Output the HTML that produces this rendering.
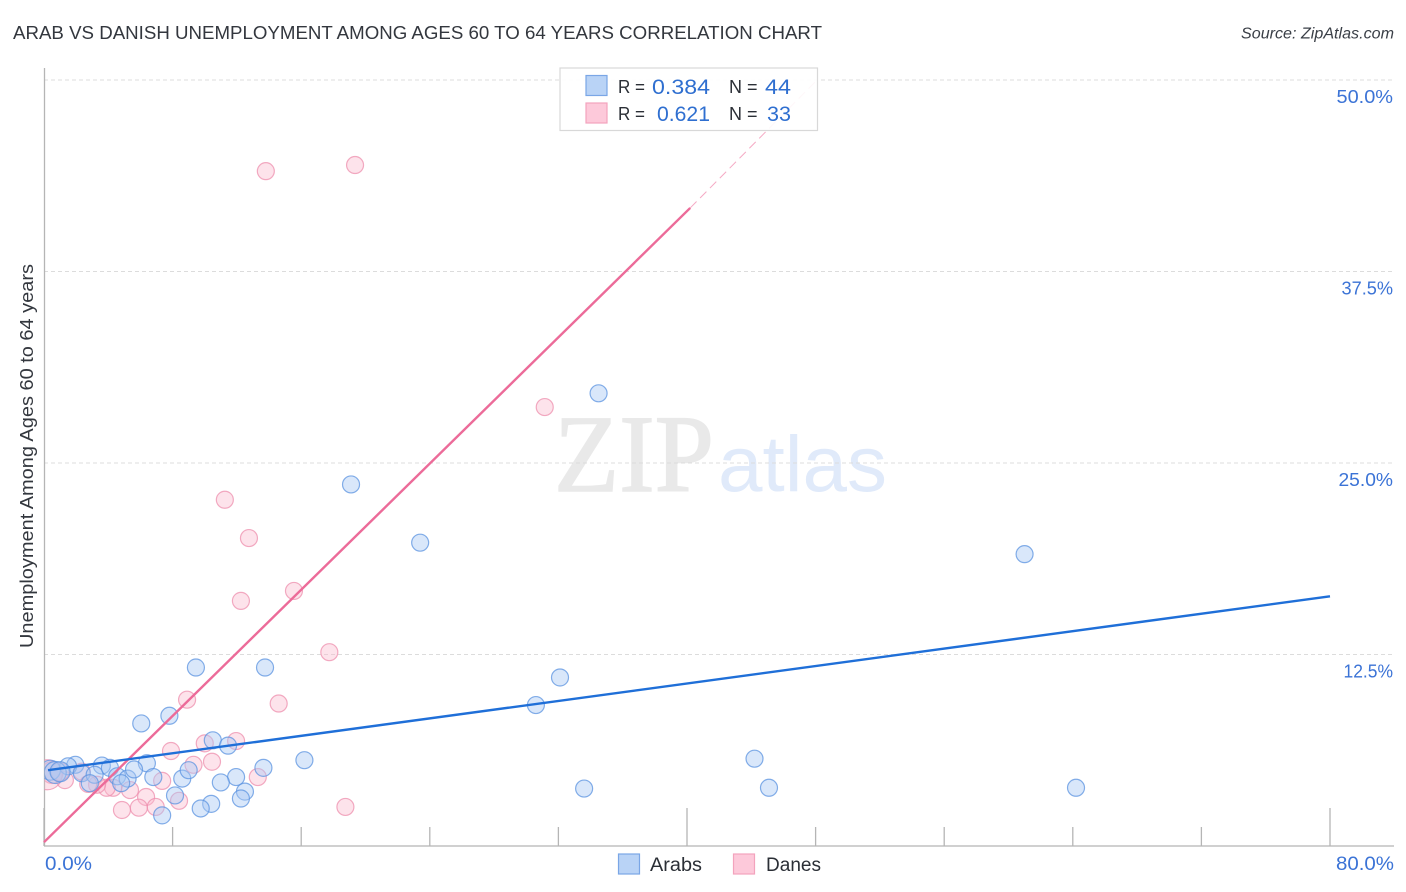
<!DOCTYPE html>
<html lang="en">
<head>
<meta charset="utf-8">
<title>Arab vs Danish Unemployment Correlation Chart</title>
<style>
html,body{margin:0;padding:0;background:#fff;}
svg{display:block;font-family:"Liberation Sans",sans-serif;}
</style>
</head>
<body>
<svg id="chart" width="1406" height="892" viewBox="0 0 1406 892" xmlns="http://www.w3.org/2000/svg">
  <defs><clipPath id="plot-clip"><rect x="44.5" y="60" width="1350" height="786"/></clipPath></defs>
  <text x="13" y="39" font-size="18.5" fill="#33373e" textLength="809" lengthAdjust="spacingAndGlyphs">ARAB VS DANISH UNEMPLOYMENT AMONG AGES 60 TO 64 YEARS CORRELATION CHART</text>
  <text x="1394" y="38.500" font-size="15.5" font-style="italic" fill="#3a3f47" text-anchor="end" textLength="153" lengthAdjust="spacingAndGlyphs">Source: ZipAtlas.com</text>
  <g>
    <text x="554" y="491" font-family="'Liberation Serif',serif" font-size="110" fill="#e9e9e9" stroke="#e9e9e9" stroke-width="1.5" textLength="160" lengthAdjust="spacingAndGlyphs">ZIP</text>
    <text x="718" y="491" font-size="79" fill="#e0eafa" textLength="169" lengthAdjust="spacingAndGlyphs">atlas</text>
  </g>
  <g id="grid"></g>
  <g id="axes"></g>
  <g id="marks" clip-path="url(#plot-clip)"></g>
  <g id="lines"></g>
  <g id="ylabels"></g>
  <text transform="translate(33,456) rotate(-90)" font-size="18" fill="#33373e" text-anchor="middle" textLength="384" lengthAdjust="spacingAndGlyphs">Unemployment Among Ages 60 to 64 years</text>
  <text x="45" y="870" font-size="19" fill="#3b73d6" textLength="47" lengthAdjust="spacingAndGlyphs">0.0%</text>
  <text x="1394" y="870" font-size="19" fill="#3b73d6" text-anchor="end" textLength="58" lengthAdjust="spacingAndGlyphs">80.0%</text>

  <g>
    <rect x="560" y="68" width="257.5" height="62.5" fill="#fff" fill-opacity="0.9" stroke="#d8d8d8" stroke-width="1.2"/>
    <rect x="586" y="75.500" width="21" height="20" fill="#b9d3f6" stroke="#7aa6e6" stroke-width="1.2"/>
    <rect x="586" y="103" width="21" height="20" fill="#fdc9da" stroke="#f3a3bd" stroke-width="1.2"/>
    <text x="618" y="93" font-size="18" fill="#2b2f36" textLength="27" lengthAdjust="spacingAndGlyphs">R =</text>
    <text x="652" y="94" font-size="21" fill="#2f6fd0" textLength="58" lengthAdjust="spacingAndGlyphs">0.384</text>
    <text x="729" y="93" font-size="18" fill="#2b2f36">N =</text>
    <text x="765" y="94" font-size="21" fill="#2f6fd0" textLength="26" lengthAdjust="spacingAndGlyphs">44</text>
    <text x="618" y="120" font-size="18" fill="#2b2f36" textLength="27" lengthAdjust="spacingAndGlyphs">R =</text>
    <text x="657" y="121" font-size="21" fill="#2f6fd0" textLength="53" lengthAdjust="spacingAndGlyphs">0.621</text>
    <text x="729" y="120" font-size="18" fill="#2b2f36">N =</text>
    <text x="767" y="121" font-size="21" fill="#2f6fd0" textLength="24" lengthAdjust="spacingAndGlyphs">33</text>
  </g>

  <g>
    <rect x="618.500" y="854" width="21" height="20" fill="#b9d3f6" stroke="#7aa6e6" stroke-width="1.2"/>
    <text x="650" y="871" font-size="19" fill="#2b2f36" textLength="52" lengthAdjust="spacingAndGlyphs">Arabs</text>
    <rect x="733.500" y="854" width="21" height="20" fill="#fdc9da" stroke="#f3a3bd" stroke-width="1.2"/>
    <text x="766" y="871" font-size="19" fill="#2b2f36" textLength="55" lengthAdjust="spacingAndGlyphs">Danes</text>
  </g>
</svg>
<script>
// Chart data, in axis units (percent).
const xTickValues = [0, 8, 16, 24, 32, 40, 48, 56, 64, 72, 80];
const xMajorTicks = [0, 40, 80];
const yTickValues = [12.5, 25, 37.5, 50];
const yTickLabels = ["12.5%", "25.0%", "37.5%", "50.0%"];

const arabsX = [34.5, 19.1, 23.4, 61.0, 9.45, 13.75, 32.1, 30.6, 6.05, 7.8, 10.5, 11.45, 16.2, 44.2, 13.65, 6.4, 1.95, 3.6, 1.5, 0.4, 0.7, 1.0, 2.35, 3.15, 4.1, 4.55, 5.2, 5.6, 4.8, 2.85, 6.8, 8.6, 9.0, 11.95, 11.0, 12.5, 12.25, 8.15, 10.4, 9.75, 7.35, 33.6, 45.1, 64.2];
const arabsY = [29.55, 23.6, 19.8, 19.05, 11.65, 11.65, 11.0, 9.2, 8.0, 8.5, 6.9, 6.55, 5.6, 5.7, 5.1, 5.4, 5.3, 5.25, 5.2, 4.95, 4.8, 4.85, 4.75, 4.65, 5.1, 4.55, 4.4, 5.0, 4.1, 4.1, 4.5, 4.4, 4.95, 4.5, 4.15, 3.55, 3.1, 3.3, 2.75, 2.45, 2.0, 3.75, 3.8, 3.8];
const arabsR = [8.5, 8.5, 8.5, 8.5, 8.5, 8.5, 8.5, 8.5, 8.5, 8.5, 8.5, 8.5, 8.5, 8.5, 8.5, 8.5, 8.5, 8.5, 8.5, 10, 11, 10, 8.5, 8.5, 8.5, 8.5, 8.5, 8.5, 8.5, 8.5, 8.5, 8.5, 8.5, 8.5, 8.5, 8.5, 8.5, 8.5, 8.5, 8.5, 8.5, 8.5, 8.5, 8.5];

const danesX = [13.8, 19.35, 31.15, 11.25, 12.75, 12.25, 15.55, 17.75, 14.6, 8.9, 11.95, 10.0, 7.9, 10.45, 9.3, 7.35, 13.3, 5.35, 6.35, 8.4, 6.95, 5.9, 4.85, 18.75, 4.3, 3.9, 3.3, 2.35, 1.3, 0.5, 0.2, 1.0, 2.75];
const danesY = [44.05, 44.45, 28.65, 22.6, 20.1, 16.0, 16.65, 12.65, 9.3, 9.55, 6.85, 6.7, 6.2, 5.5, 5.3, 4.25, 4.5, 3.65, 3.2, 2.95, 2.55, 2.5, 2.35, 2.55, 3.8, 3.8, 4.0, 4.85, 4.3, 4.8, 4.65, 4.85, 4.05];
const danesR = [8.5, 8.5, 8.5, 8.5, 8.5, 8.5, 8.5, 8.5, 8.5, 8.5, 8.5, 8.5, 8.5, 8.5, 8.5, 8.5, 8.5, 8.5, 8.5, 8.5, 8.5, 8.5, 8.5, 8.5, 8.5, 8.5, 8.5, 8.5, 8.5, 11, 15, 9, 8.5];

const arabsTrendX = [0.25, 80];
const arabsTrendY = [4.95, 16.3];
const danesTrendX = [0, 40.2];
const danesTrendY = [0.25, 41.65];
const danesTrendDashX = [40.2, 48];
const danesTrendDashY = [41.65, 49.9];

// Axis functions.
const xScale = v => 44 + v * 16.075;
const yScale = v => 846 - v * 15.32;

// The reference tick font has wider round digits than Liberation Sans, so fit each label to its glyphs.
function tickLabelWidth(label) {
  let w = 0;
  for (const ch of label) {
    if (ch === "1") w += 7.5;
    else if (ch === "7") w += 9.5;
    else if (ch === "0") w += 12.5;
    else if (ch === ".") w += 4;
    else if (ch === "%") w += 17;
    else w += 10.5;
  }
  return w;
}

const NS = "http://www.w3.org/2000/svg";
function make(tag, attrs, parent) {
  const el = document.createElementNS(NS, tag);
  for (const k in attrs) el.setAttribute(k, attrs[k]);
  parent.appendChild(el);
  return el;
}
const grid = document.getElementById("grid");
const axes = document.getElementById("axes");
const marks = document.getElementById("marks");
const lines = document.getElementById("lines");
const ylabels = document.getElementById("ylabels");

yTickValues.forEach((v, i) => {
  const g = make("line", {x1: 44, x2: 1394, y1: yScale(v), y2: yScale(v), stroke: "#dcdcdc", "stroke-width": 1, "stroke-dasharray": "4 3"}, grid);
  
  
  const t = make("text", {x: 1393, y: yScale(v) + 23, "font-size": 18.5, fill: "#3b73d6", "text-anchor": "end", textLength: tickLabelWidth(yTickLabels[i]), lengthAdjust: "spacingAndGlyphs"}, ylabels);
  t.textContent = yTickLabels[i];
  
  
});

const yAxis = make("line", {x1: 44.5, x2: 44.5, y1: 68, y2: 846, stroke: "#b5b5b5", "stroke-width": 1.3}, axes);


const xAxis = make("line", {x1: 44, x2: 1394, y1: 846, y2: 846, stroke: "#b5b5b5", "stroke-width": 1.3}, axes);


xTickValues.forEach(v => {
  const top = xMajorTicks.includes(v) ? 808 : 827;
  const t = make("line", {x1: xScale(v), x2: xScale(v), y1: top, y2: 846, stroke: "#b5b5b5", "stroke-width": 1.3}, axes);
  
  
});

danesX.forEach((x, i) => {
  const c = make("circle", {cx: xScale(x), cy: yScale(danesY[i]), r: danesR[i], fill: "#fbb9ce", "fill-opacity": 0.4, stroke: "#ee8fae", "stroke-opacity": 0.75, "stroke-width": 1.2}, marks);
  
  
});
arabsX.forEach((x, i) => {
  const c = make("circle", {cx: xScale(x), cy: yScale(arabsY[i]), r: arabsR[i], fill: "#a8c9f3", "fill-opacity": 0.44, stroke: "#5b93e0", "stroke-opacity": 0.75, "stroke-width": 1.2}, marks);
  
  
});

const danesDash = make("line", {x1: xScale(danesTrendDashX[0]), y1: yScale(danesTrendDashY[0]), x2: xScale(danesTrendDashX[1]), y2: yScale(danesTrendDashY[1]), stroke: "#ee6f9c", "stroke-opacity": 0.6, "stroke-width": 1, "stroke-dasharray": "9 5"}, lines);


const danesLine = make("line", {x1: xScale(danesTrendX[0]), y1: yScale(danesTrendY[0]), x2: xScale(danesTrendX[1]), y2: yScale(danesTrendY[1]), stroke: "#ec6b99", "stroke-width": 2.4}, lines);


const arabsLine = make("line", {x1: xScale(arabsTrendX[0]), y1: yScale(arabsTrendY[0]), x2: xScale(arabsTrendX[1]), y2: yScale(arabsTrendY[1]), stroke: "#1f6fd8", "stroke-width": 2.4}, lines);


</script>
</body>
</html>
